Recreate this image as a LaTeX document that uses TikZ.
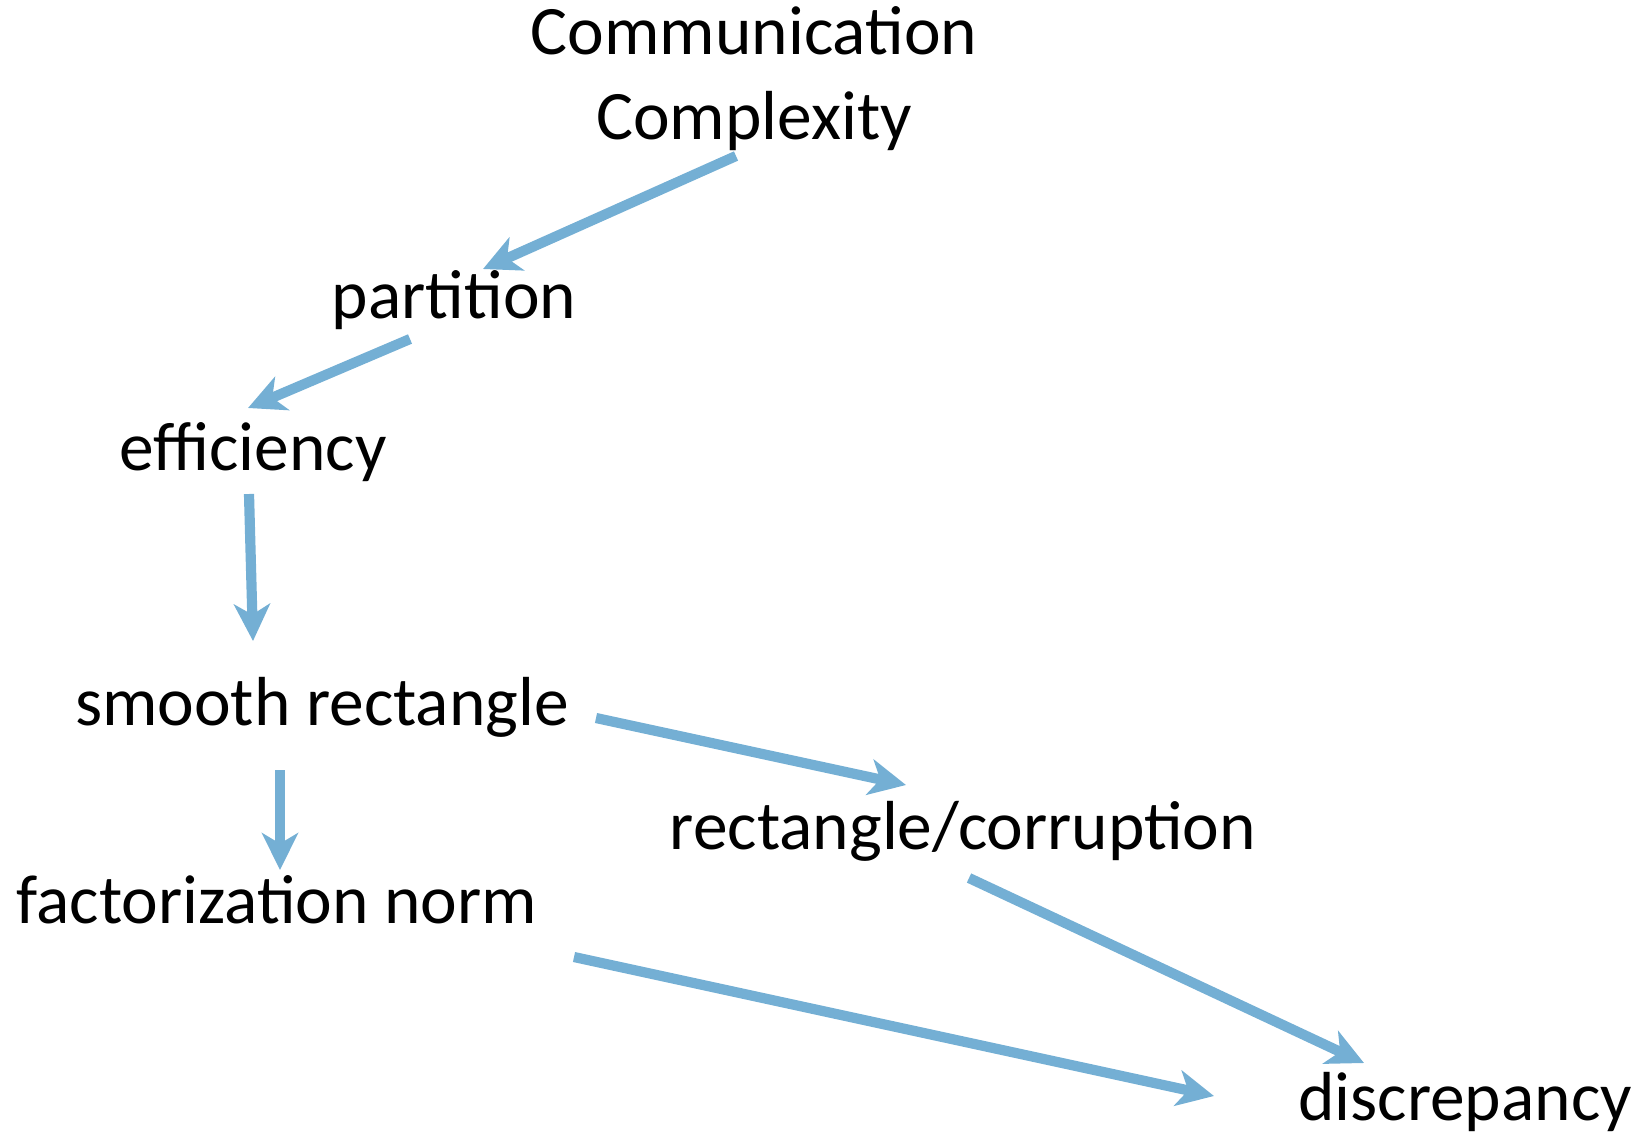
\documentclass[tikz,border=0pt]{standalone}
\usepackage{fontspec}
\setmainfont{Carlito}
\usetikzlibrary{arrows.meta}
\begin{document}
\begin{tikzpicture}[x=0.02cm, y=-0.02cm, term/.style={font=\fontsize{39.5}{48}\selectfont, inner sep=0pt, anchor=base, text=black}, link/.style={-{Stealth[length=21pt, width=20.5pt, inset=6pt]}, line width=5.8pt, ccBlue}]
\definecolor{ccBlue}{RGB}{116,175,212}
\useasboundingbox (0,0) rectangle (1648,1132);
% terms
\node[term, align=center] (cc) at (754,139) {Communication\\Complexity};
\node[term] (part) at (454,318) {partition};
\node[term] (eff) at (253,470) {efficiency};
\node[term] (smooth) at (322,725) {smooth rectangle};
\node[term] (fact) at (277,923) {factorization norm};
\node[term] (rect) at (963,849) {rectangle/corruption};
\node[term] (disc) at (1465,1120) {discrepancy};
% arrow ends
\coordinate (ccOut) at (736,156);
\coordinate (partIn) at (483,269);
\coordinate (partOut) at (410,339);
\coordinate (effIn) at (248,408);
\coordinate (effOut) at (249,494);
\coordinate (smoothIn) at (253,641);
\coordinate (smoothDown) at (280,770);
\coordinate (factIn) at (280,870);
\coordinate (smoothRight) at (596,718);
\coordinate (rectIn) at (906,785);
\coordinate (rectOut) at (969,878);
\coordinate (discTop) at (1364,1063);
\coordinate (factOut) at (574,957);
\coordinate (discLeft) at (1214,1096);
% links
\draw[link] (ccOut) -- (partIn);
\draw[link] (partOut) -- (effIn);
\draw[link] (effOut) -- (smoothIn);
\draw[link] (smoothDown) -- (factIn);
\draw[link] (smoothRight) -- (rectIn);
\draw[link] (rectOut) -- (discTop);
\draw[link] (factOut) -- (discLeft);
\end{tikzpicture}
\end{document}
